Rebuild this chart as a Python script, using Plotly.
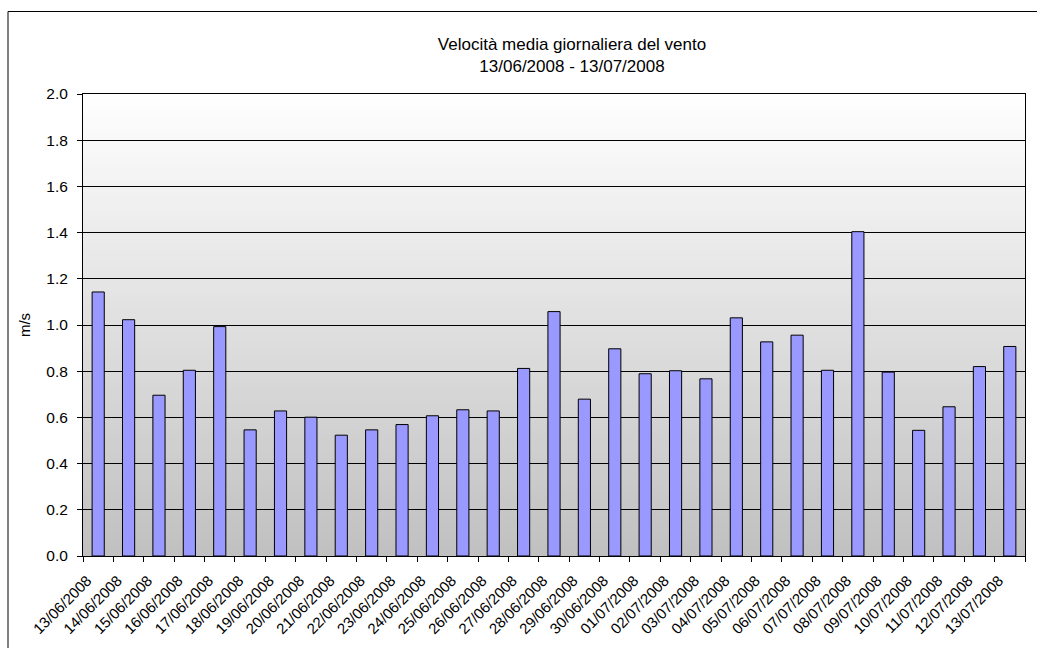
import plotly.graph_objects as go

# Daily mean wind speed, 13 June - 13 July 2008
dates = [
    "13/06/2008", "14/06/2008", "15/06/2008", "16/06/2008", "17/06/2008",
    "18/06/2008", "19/06/2008", "20/06/2008", "21/06/2008", "22/06/2008",
    "23/06/2008", "24/06/2008", "25/06/2008", "26/06/2008", "27/06/2008",
    "28/06/2008", "29/06/2008", "30/06/2008", "01/07/2008", "02/07/2008",
    "03/07/2008", "04/07/2008", "05/07/2008", "06/07/2008", "07/07/2008",
    "08/07/2008", "09/07/2008", "10/07/2008", "11/07/2008", "12/07/2008",
    "13/07/2008",
]
wind_speed = [
    1.143, 1.023, 0.696, 0.804, 0.993, 0.546, 0.628, 0.601, 0.523, 0.546,
    0.569, 0.607, 0.633, 0.628, 0.812, 1.058, 0.679, 0.897, 0.789, 0.802,
    0.767, 1.031, 0.927, 0.956, 0.804, 1.404, 0.796, 0.544, 0.646, 0.820,
    0.907,
]
y_ticks = [0.0, 0.2, 0.4, 0.6, 0.8, 1.0, 1.2, 1.4, 1.6, 1.8, 2.0]

FONT = "Liberation Sans, Arial, sans-serif"

fig = go.Figure(
    go.Bar(
        x=dates,
        y=wind_speed,
        marker=dict(color="#9999FF", line=dict(color="black", width=1)),
        hoverinfo="skip",
    )
)

# Vertical white-to-grey gradient behind the plot area, drawn as thin bands
shapes = []
n_bands = 80
top_rgb = (255, 255, 255)
bot_rgb = (192, 192, 192)
for i in range(n_bands):
    t = (i + 0.5) / n_bands
    c = tuple(round(top_rgb[k] + (bot_rgb[k] - top_rgb[k]) * t) for k in range(3))
    y1 = 1 - i / n_bands
    y0 = 1 - (i + 1) / n_bands - 0.002
    shapes.append(dict(
        type="rect", xref="paper", yref="paper",
        x0=0, x1=1, y0=max(y0, 0), y1=y1,
        fillcolor="rgb(%d,%d,%d)" % c, line=dict(width=0), layer="below",
    ))

# Outer chart frame
shapes.append(dict(
    type="rect", xref="paper", yref="paper",
    x0=(8 - 83) / 942, x1=1.2, y0=-0.4, y1=(556 - 11.5) / 462,
    line=dict(color="black", width=1), fillcolor="rgba(0,0,0,0)", layer="below",
))

fig.update_layout(
    width=1037,
    height=648,
    margin=dict(l=83, r=12, t=94, b=92, autoexpand=False),
    paper_bgcolor="white",
    plot_bgcolor="rgba(0,0,0,0)",
    font=dict(family=FONT, size=15, color="black"),
    bargap=0.6,
    showlegend=False,
    shapes=shapes,
    title=dict(
        text="Velocità media giornaliera del vento<br>13/06/2008 - 13/07/2008",
        x=572 / 1037, xanchor="center", xref="container",
        y=1 - 50 / 648, yanchor="middle", yref="container",
        font=dict(family=FONT, size=17, color="black"),
    ),
    xaxis=dict(
        type="category",
        tickangle=-45,
        tickson="boundaries",
        ticks="outside", ticklen=5, tickcolor="black",
        ticklabelshift=-11,
        ticklabelstandoff=9,
        showline=True, linecolor="black", linewidth=1, mirror=True,
        showgrid=False,
        tickfont=dict(family=FONT, size=15),
    ),
    yaxis=dict(
        range=[0, 2],
        tickvals=y_ticks,
        tickformat=".1f",
        ticks="outside", ticklen=5, tickcolor="black",
        ticklabelstandoff=6,
        showline=True, linecolor="black", linewidth=1, mirror=True,
        showgrid=True, gridcolor="black", gridwidth=1,
        zeroline=False,
        tickfont=dict(family=FONT, size=15.5),
        title=dict(text="m/s", font=dict(family=FONT, size=15), standoff=12),
    ),
)

fig.write_html("out.html")
